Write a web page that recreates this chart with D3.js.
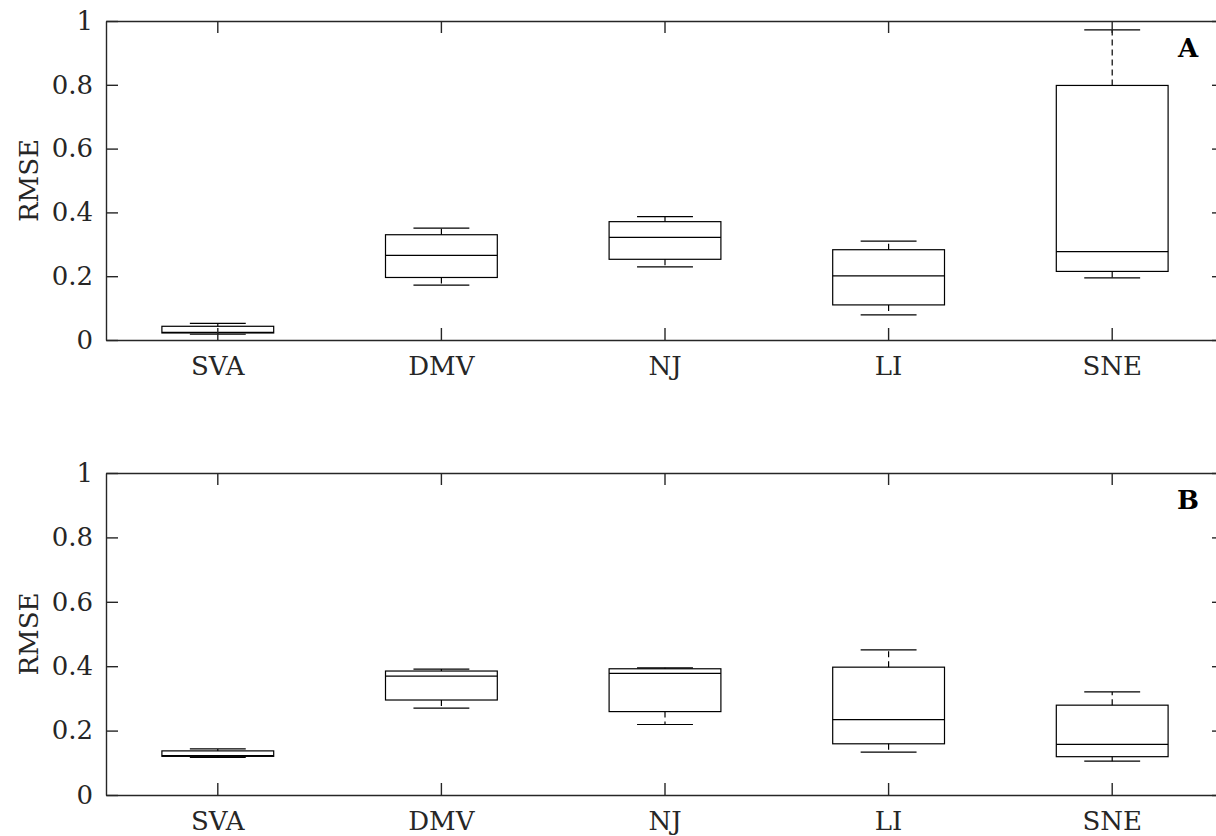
<!DOCTYPE html>
<html>
<head>
<meta charset="utf-8">
<script src="https://cdn.jsdelivr.net/npm/d3@7"></script>
<style>
  body { margin: 0; background: #fff; overflow: hidden; }
  text { font-family: "DejaVu Serif", serif; }
</style>
</head>
<body>
<div id="chart"></div>
<script>
var regions = ["SVA", "DMV", "NJ", "LI", "SNE"];

// panel A
var aLow  = [0.018, 0.172, 0.229, 0.079, 0.195];
var aQ1   = [0.022, 0.196, 0.253, 0.110, 0.215];
var aMed  = [0.024, 0.265, 0.322, 0.201, 0.277];
var aQ3   = [0.043, 0.330, 0.371, 0.283, 0.798];
var aHigh = [0.052, 0.351, 0.387, 0.310, 0.972];

// panel B
var bLow  = [0.117, 0.270, 0.219, 0.133, 0.105];
var bQ1   = [0.120, 0.295, 0.259, 0.159, 0.119];
var bMed  = [0.122, 0.369, 0.378, 0.234, 0.157];
var bQ3   = [0.137, 0.385, 0.392, 0.397, 0.279];
var bHigh = [0.143, 0.391, 0.395, 0.451, 0.320];

var yTicks = [0, 0.2, 0.4, 0.6, 0.8, 1];

var width = 1216, height = 836;
var left = 106, right = 1224;
var axisColor = "#262626";
var fontSize = "26px";

var svg = d3.select("#chart").append("svg")
  .attr("width", width)
  .attr("height", height);

function drawPanel(top, bottom, low, q1, med, q3, high, letter) {
  var x = d3.scaleBand().domain(regions).range([left, right]).padding(0);
  var y = d3.scaleLinear().domain([0, 1]).range([bottom, top]);
  var bw = x.bandwidth();

  var data = regions.map(function(r, i) {
    return {name: r, low: low[i], q1: q1[i], med: med[i], q3: q3[i], high: high[i]};
  });

  var g = svg.append("g");

  var box = g.selectAll(".box").data(data).enter().append("g").attr("class", "box");
  function cx(d) { return x(d.name) + bw / 2; }

  // whiskers (dashed)
  box.append("line")
    .attr("x1", cx).attr("x2", cx)
    .attr("y1", function(d){ return y(d.q3); })
    .attr("y2", function(d){ return y(d.high); })
    .attr("stroke", "#000").attr("stroke-width", 1.2)
    .attr("stroke-dasharray", "6,4");
  box.append("line")
    .attr("x1", cx).attr("x2", cx)
    .attr("y1", function(d){ return y(d.q1); })
    .attr("y2", function(d){ return y(d.low); })
    .attr("stroke", "#000").attr("stroke-width", 1.2)
    .attr("stroke-dasharray", "6,4");

  // caps
  ["low", "high"].forEach(function(k) {
    box.append("line")
      .attr("x1", function(d){ return cx(d) - bw / 8; })
      .attr("x2", function(d){ return cx(d) + bw / 8; })
      .attr("y1", function(d){ return y(d[k]); })
      .attr("y2", function(d){ return y(d[k]); })
      .attr("stroke", "#000").attr("stroke-width", 1.2);
  });

  box.append("rect")
    .attr("x", function(d){ return cx(d) - bw / 4; })
    .attr("width", bw / 2)
    .attr("y", function(d){ return y(d.q3); })
    .attr("height", function(d){ return y(d.q1) - y(d.q3); })
    .attr("fill", "none")
    .attr("stroke", "#000").attr("stroke-width", 1.2);

  box.append("line")
    .attr("x1", function(d){ return cx(d) - bw / 4; })
    .attr("x2", function(d){ return cx(d) + bw / 4; })
    .attr("y1", function(d){ return y(d.med); })
    .attr("y2", function(d){ return y(d.med); })
    .attr("stroke", "#000").attr("stroke-width", 1.2);

  // axes, ticks pointing inward on all four sides
  var xBottom = g.append("g")
    .attr("transform", "translate(0," + bottom + ")")
    .call(d3.axisBottom(x).tickSize(-12).tickSizeOuter(0).tickPadding(17));
  var xTop = g.append("g")
    .attr("transform", "translate(0," + top + ")")
    .call(d3.axisTop(x).tickSize(-12).tickSizeOuter(0).tickFormat(""));
  var yLeft = g.append("g")
    .attr("transform", "translate(" + left + ",0)")
    .call(d3.axisLeft(y).tickValues(yTicks).tickSize(-12).tickSizeOuter(0).tickPadding(13)
      .tickFormat(function(d){ return d === 0 ? "0" : d === 1 ? "1" : d3.format(".1f")(d); }));
  var yRight = g.append("g")
    .attr("transform", "translate(" + right + ",0)")
    .call(d3.axisRight(y).tickValues(yTicks).tickSize(-12).tickSizeOuter(0).tickFormat(""));

  [xBottom, xTop, yLeft, yRight].forEach(function(a) {
    a.selectAll("path, line").attr("stroke", axisColor).attr("stroke-width", 1.4);
    a.selectAll("text").attr("fill", axisColor).attr("font-size", fontSize)
      .attr("font-family", "DejaVu Serif, serif");
  });

  g.append("text")
    .attr("transform", "translate(38," + ((top + bottom) / 2) + ") rotate(-90)")
    .attr("text-anchor", "middle")
    .attr("font-size", fontSize)
    .attr("fill", axisColor)
    .text("RMSE");

  g.append("text")
    .attr("x", 1188)
    .attr("y", top + 36)
    .attr("text-anchor", "middle")
    .attr("font-size", fontSize)
    .attr("font-weight", "bold")
    .attr("fill", "#000")
    .text(letter);
}

drawPanel(21, 340, aLow, aQ1, aMed, aQ3, aHigh, "A");
drawPanel(473, 795, bLow, bQ1, bMed, bQ3, bHigh, "B");
</script>
</body>
</html>
